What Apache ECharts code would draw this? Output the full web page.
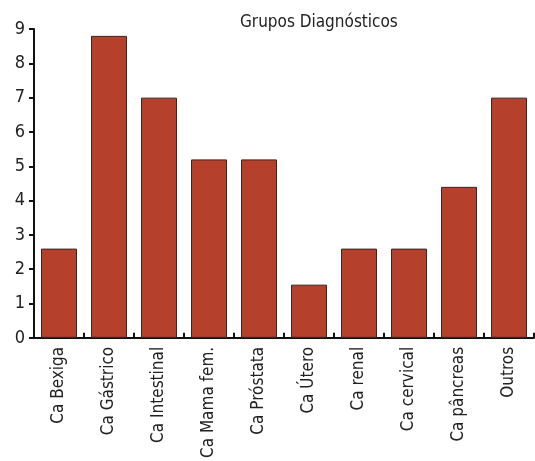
<!DOCTYPE html>
<html lang="pt">
<head>
    <meta charset="UTF-8">
    <title>Grupos Diagnósticos</title>
    <script src="https://cdn.jsdelivr.net/npm/echarts@6/dist/echarts.min.js"></script>
    <style>
        html, body { margin: 0; padding: 0; background: #fff; }
        #chart { width: 535px; height: 461px; }
    </style>
</head>
<body>
<div id="chart"></div>
<script>
const categories = ['Ca Bexiga', 'Ca Gástrico', 'Ca Intestinal', 'Ca Mama fem.', 'Ca Próstata',
    'Ca Útero', 'Ca renal', 'Ca cervical', 'Ca pâncreas', 'Outros'];
const values = [2.6, 8.8, 7.0, 5.2, 5.2, 1.55, 2.6, 2.6, 4.4, 7.0];
const yTicks = [0, 1, 2, 3, 4, 5, 6, 7, 8, 9];

const font = '"Liberation Sans Narrow", "DejaVu Sans Condensed", sans-serif';

const chart = echarts.init(document.getElementById('chart'));
chart.setOption({
    animation: false,
    title: {
        text: 'Grupos Diagnósticos',
        left: 235,
        top: 9,
        textStyle: { fontFamily: font, fontSize: 17, fontWeight: 'normal', color: '#222' }
    },
    grid: { left: 34, right: 1, top: 29, bottom: 118, containLabel: false },
    xAxis: {
        type: 'category',
        data: categories,
        axisLine: { lineStyle: { color: '#111', width: 2 } },
        axisTick: { show: true, inside: true, length: 5, lineStyle: { color: '#111', width: 2 } },
        axisLabel: { rotate: 90, interval: 0, margin: 9, fontFamily: font, fontSize: 17, color: '#222' }
    },
    yAxis: {
        type: 'value',
        min: yTicks[0],
        max: yTicks[yTicks.length - 1],
        interval: 1,
        splitLine: { show: false },
        axisLine: { show: true, lineStyle: { color: '#111', width: 2 } },
        axisTick: { show: true, length: 5, lineStyle: { color: '#111', width: 2 } },
        axisLabel: { margin: 9, fontFamily: font, fontSize: 18, color: '#222' }
    },
    series: [{
        type: 'bar',
        data: values,
        barWidth: 36,
        itemStyle: { color: '#B5402C', borderColor: '#3a2520', borderWidth: 1 }
    }]
});
</script>
</body>
</html>
